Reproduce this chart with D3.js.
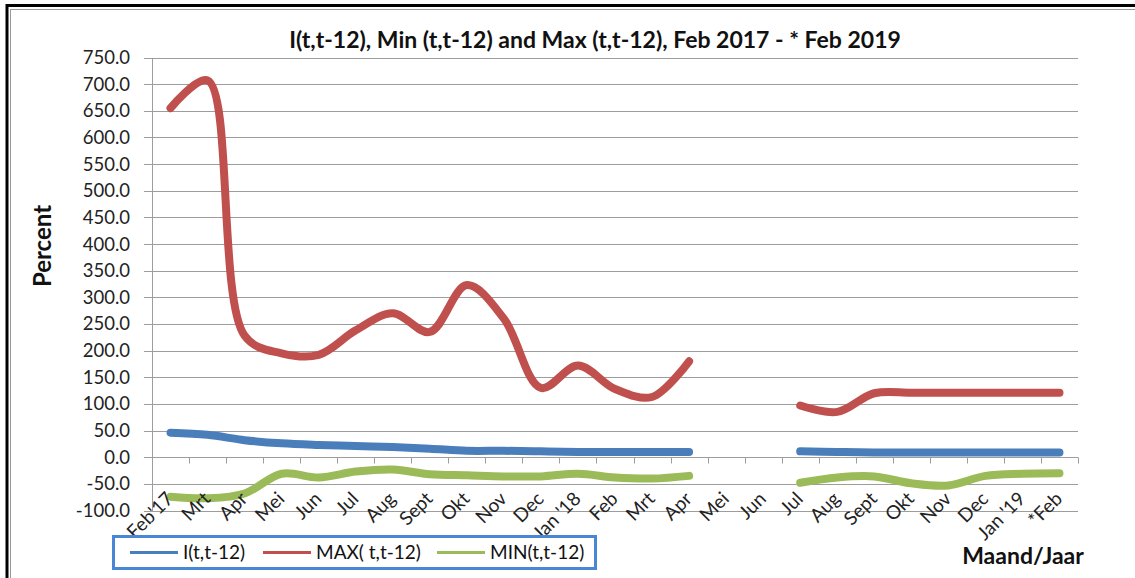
<!DOCTYPE html>
<html>
<head>
<meta charset="utf-8">
<script src="https://cdn.jsdelivr.net/npm/d3@7"></script>
<style>
  html, body { margin: 0; padding: 0; background: #fff; }
  svg { display: block; font-family: Lato, "Open Sans", sans-serif; }
</style>
</head>
<body>
<svg id="chart" width="1135" height="578"></svg>
<script>
const categories = ["Feb'17","Mrt","Apr","Mei","Jun","Jul","Aug","Sept","Okt","Nov","Dec","Jan '18",
  "Feb","Mrt","Apr","Mei","Jun","Jul","Aug","Sept","Okt","Nov","Dec","Jan '19","*Feb"];
const seriesI   = [46, 42, 32, 26, 23, 21, 19, 16, 12, 12, 11, 10, 10, 10, 10, null, null, 11, 10, 9, 9, 9, 9, 9, 9];
const seriesMax = [655, 707, 228, 195, 192, 238, 270, 235, 323, 260, 130, 172, 128, 113, 180, null, null, 97, 85, 120, 121, 121, 121, 121, 121];
const seriesMin = [-74, -77, -68, -31, -38, -27, -23, -32, -34, -36, -36, -31, -38, -40, -35, null, null, -48, -38, -36, -49, -53, -35, -31, -30];
const yTicks = d3.range(-100, 751, 50);
const seriesNames = ["I(t,t-12)", "MAX( t,t-12)", "MIN(t,t-12)"];
const seriesColors = ["#4a7ebb", "#c0504d", "#9bbb59"];

const svg = d3.select("#chart");
const plotL = 152, plotR = 1078, plotT = 57.5, plotB = 510.5;

// frame
svg.append("rect").attr("x", 7).attr("y", 5.5).attr("width", 1150).attr("height", 600)
  .attr("fill", "none").attr("stroke", "#000").attr("stroke-width", 3);
svg.append("rect").attr("x", 10.5).attr("y", 9.5).attr("width", 1150).attr("height", 600)
  .attr("fill", "none").attr("stroke", "#999").attr("stroke-width", 1);

const x = d3.scaleBand().domain(d3.range(categories.length)).range([plotL, plotR]);
const y = d3.scaleLinear().domain([-100, 750]).range([plotB, plotT]);

// gridlines
svg.append("g").selectAll("line").data(yTicks).join("line")
  .attr("x1", plotL - 8).attr("x2", plotR)
  .attr("y1", d => Math.round(y(d)) + 0.5).attr("y2", d => Math.round(y(d)) + 0.5)
  .attr("stroke", "#9d9d9d").attr("stroke-width", 1);

// y axis line
svg.append("line").attr("x1", plotL + 0.5).attr("x2", plotL + 0.5)
  .attr("y1", Math.round(y(750))).attr("y2", Math.round(y(-100)) + 1)
  .attr("stroke", "#9d9d9d");

// y tick labels
svg.append("g").selectAll("text").data(yTicks).join("text")
  .attr("x", 130).attr("y", d => y(d)).attr("dy", "0.35em")
  .attr("text-anchor", "end").attr("font-size", 18.5).attr("fill", "#222")
  .text(d => d.toFixed(1));

// x axis at zero
const y0 = Math.round(y(0)) + 0.5;
svg.append("line").attr("x1", plotL).attr("x2", plotR).attr("y1", y0).attr("y2", y0)
  .attr("stroke", "#9d9d9d");
const boundaries = d3.range(categories.length + 1).map(i => i === categories.length ? plotR : x(i));
svg.append("g").selectAll("line").data(boundaries).join("line")
  .attr("x1", d => Math.round(d) + 0.5).attr("x2", d => Math.round(d) + 0.5)
  .attr("y1", y0).attr("y2", y0 + 6).attr("stroke", "#9d9d9d");

// lines
const cx = i => x(i) + x.bandwidth() / 2;
const line = d3.line().defined(d => d != null).x((d, i) => cx(i)).y(d => y(d))
  .curve(d3.curveCatmullRom.alpha(0.5));
[seriesI, seriesMax, seriesMin].forEach((s, k) => {
  svg.append("path").attr("d", line(s)).attr("fill", "none")
    .attr("stroke", seriesColors[k]).attr("stroke-width", 8)
    .attr("stroke-linecap", "round").attr("stroke-linejoin", "round");
});

// x labels
svg.append("g").selectAll("text").data(categories).join("text")
  .attr("text-anchor", "end").attr("font-size", 19).attr("fill", "#222")
  .attr("transform", (d, i) => `translate(${cx(i) + 4},${500}) rotate(-45)`)
  .text(d => d);

// title
svg.append("text").attr("x", 595).attr("y", 48).attr("text-anchor", "middle")
  .attr("font-size", 23).attr("font-weight", "bold").attr("fill", "#111")
  .text("I(t,t-12), Min (t,t-12) and Max (t,t-12), Feb 2017 - * Feb 2019");

// y label
svg.append("text").attr("transform", "translate(51,246) rotate(-90)")
  .attr("text-anchor", "middle").attr("font-size", 24).attr("font-weight", "bold").attr("fill", "#111")
  .text("Percent");

// x label
svg.append("text").attr("x", 1023).attr("y", 564).attr("text-anchor", "middle")
  .attr("font-size", 23).attr("font-weight", "bold").attr("fill", "#111")
  .text("Maand/Jaar");

// legend
svg.append("rect").attr("x", 113.5).attr("y", 536.5).attr("width", 482).attr("height", 32)
  .attr("fill", "#fff").attr("stroke", "#4a86d6").attr("stroke-width", 3);
const legendX = [130, 263, 437];
seriesNames.forEach((n, k) => {
  svg.append("line").attr("x1", legendX[k]).attr("x2", legendX[k] + 48)
    .attr("y1", 552.5).attr("y2", 552.5).attr("stroke", seriesColors[k]).attr("stroke-width", 3);
  svg.append("text").attr("x", legendX[k] + 53).attr("y", 552.5).attr("dy", "0.36em")
    .attr("font-size", 19).attr("fill", "#111").text(n);
});
</script>
</body>
</html>
